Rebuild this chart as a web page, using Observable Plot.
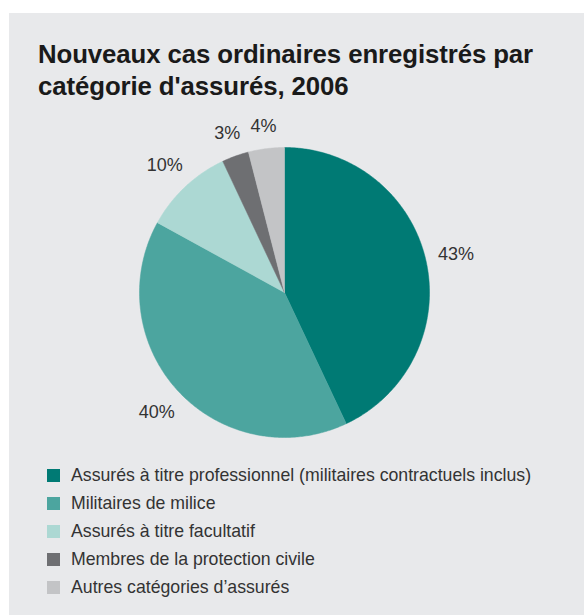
<!DOCTYPE html>
<html>
<head>
<meta charset="utf-8">
<script src="https://cdn.jsdelivr.net/npm/d3@7"></script>
<script src="https://cdn.jsdelivr.net/npm/@observablehq/plot@0.6"></script>
<style>
  html, body { margin: 0; padding: 0; background: #ffffff; }
  body { width: 584px; height: 615px; position: relative; overflow: hidden; font-family: "Liberation Sans", Arial, Helvetica, sans-serif; }
  #panel { position: absolute; left: 9px; top: 13px; width: 575px; height: 602px; background: #e8e9eb; }
  #title { position: absolute; left: 29px; top: 25px; margin: 0; font-size: 25.8px; font-weight: bold; line-height: 32px; color: #1a1a1a; letter-spacing: -0.1px; }
  #chart { position: absolute; left: 0; top: 80px; }
  #legend { position: absolute; left: 38px; top: 449px; }
  .row { display: flex; align-items: center; height: 27.8px; font-size: 17.7px; color: #333; }
  .sw { width: 13px; height: 13px; margin-right: 11px; flex: none; }
</style>
</head>
<body>
<div id="panel">
  <h1 id="title">Nouveaux cas ordinaires enregistrés par<br>catégorie d'assurés, 2006</h1>
  <div id="chart"></div>
  <div id="legend"></div>
</div>
<script>
const categories = [
  "Assurés à titre professionnel (militaires contractuels inclus)",
  "Militaires de milice",
  "Assurés à titre facultatif",
  "Membres de la protection civile",
  "Autres catégories d’assurés"
];
const values = [43, 40, 10, 3, 4];
const labels = ["43%", "40%", "10%", "3%", "4%"];
const colors = ["#007a74", "#4ca59f", "#acd8d3", "#6e6f72", "#c3c4c6"];

const arcs = d3.pie().sort(null).value(d => d)(values);

// polygon points of each slice (start at top, clockwise)
const pts = [];
arcs.forEach((a, i) => {
  const n = Math.max(4, Math.ceil((a.endAngle - a.startAngle) / 0.01));
  pts.push({cat: categories[i], x: 0, y: 0});
  for (let k = 0; k <= n; k++) {
    const t = a.startAngle + (a.endAngle - a.startAngle) * k / n;
    pts.push({cat: categories[i], x: Math.sin(t), y: Math.cos(t)});
  }
  pts.push({cat: categories[i], x: 0, y: 0});
});

const cx = 275, cy = 199, r = 145;
// label placed just outside the rim, offset by half its box in that direction
const labelData = arcs.map((a, i) => {
  const m = (a.startAngle + a.endAngle) / 2;
  const s = Math.sin(m), c = Math.cos(m);
  const halfW = labels[i].length * 5.2, halfH = 7;
  const f = (r + 14 + Math.abs(s) * halfW + Math.abs(c) * halfH) / r;
  return {label: labels[i], x: f * s, y: f * c};
});

const chart = Plot.plot({
  width: 575,
  height: 365,
  margin: 0,
  style: {background: "transparent", fontFamily: "Liberation Sans, Arial, sans-serif"},
  x: {domain: [-1, 1], range: [cx - r, cx + r], axis: null},
  y: {domain: [-1, 1], range: [cy + r, cy - r], axis: null},
  color: {domain: categories, range: colors},
  marks: [
    Plot.line(pts, {x: "x", y: "y", z: "cat", fill: "cat", stroke: "cat", strokeWidth: 0.5, curve: "linear"}),
    Plot.text(labelData, {x: "x", y: "y", text: "label", fontSize: 18, fill: "#333", fontWeight: 300})
  ]
});
document.getElementById("chart").appendChild(chart);

const leg = document.getElementById("legend");
categories.forEach((c, i) => {
  const row = document.createElement("div");
  row.className = "row";
  const sw = document.createElement("span");
  sw.className = "sw";
  sw.style.background = colors[i];
  const tx = document.createElement("span");
  tx.textContent = c;
  row.appendChild(sw);
  row.appendChild(tx);
  leg.appendChild(row);
});
</script>
</body>
</html>
